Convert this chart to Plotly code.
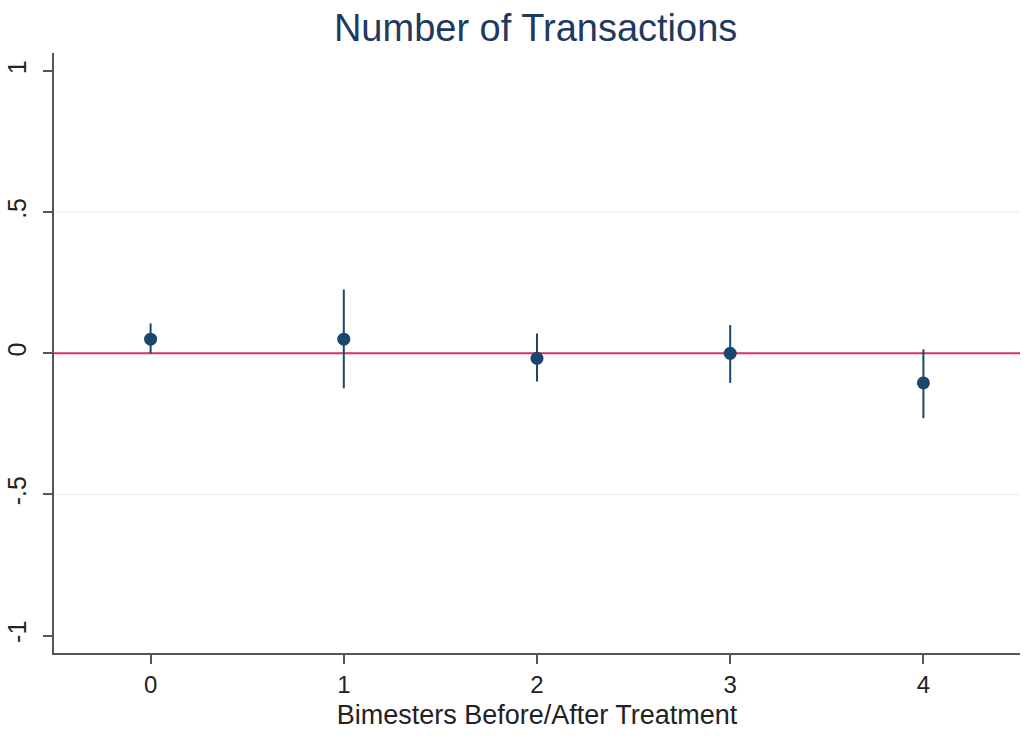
import plotly.graph_objects as go

# Event-study estimates by bimester relative to treatment
bimesters = [0, 1, 2, 3, 4]
estimate = [0.05, 0.05, -0.018, 0.0, -0.105]
ci_low = [0.0, -0.124, -0.10, -0.105, -0.23]
ci_high = [0.106, 0.226, 0.07, 0.10, 0.014]

y_ticks = [-1, -0.5, 0, 0.5, 1]
y_tick_text = ["-1", "-.5", "0", ".5", "1"]
x_ticks = [0, 1, 2, 3, 4]

navy = "#1a476f"
axis_grey = "#555555"

fig = go.Figure()

fig.add_trace(go.Scatter(
    x=bimesters,
    y=estimate,
    mode="markers",
    marker=dict(color=navy, size=13),
    error_y=dict(
        type="data",
        symmetric=False,
        array=[h - e for h, e in zip(ci_high, estimate)],
        arrayminus=[e - l for e, l in zip(estimate, ci_low)],
        color=navy,
        thickness=2,
        width=0,
    ),
    showlegend=False,
))

# light grid at the inner ticks
for gy in [-0.5, 0.5]:
    fig.add_shape(type="line", xref="paper", x0=0, x1=1, yref="y", y0=gy, y1=gy,
                  line=dict(color="#eef3f4", width=1.5), layer="below")

# reference line at zero
fig.add_shape(type="line", xref="paper", x0=0, x1=1, yref="y", y0=0, y1=0,
              line=dict(color="#d8315b", width=2), layer="below")

fig.update_layout(
    width=1034,
    height=740,
    paper_bgcolor="white",
    plot_bgcolor="white",
    margin=dict(l=54, r=14, t=53, b=87),
    font=dict(family="Liberation Sans, Arial, sans-serif", color="#222222"),
    title=dict(
        text="Number of Transactions",
        x=0.518, xanchor="center",
        y=0.963, yanchor="middle",
        font=dict(size=38, color="#1f3a5f"),
    ),
    xaxis=dict(
        range=[-0.5, 4.5],
        tickvals=x_ticks,
        ticktext=[str(v) for v in x_ticks],
        tickfont=dict(size=24, color="#222222"),
        ticks="outside", ticklen=9, tickwidth=1.5, tickcolor=axis_grey,
        showline=True, linecolor=axis_grey, linewidth=2,
        showgrid=False, zeroline=False, automargin=False,
        title=dict(text="Bimesters Before/After Treatment",
                   font=dict(size=27, color="#222222"), standoff=8),
    ),
    yaxis=dict(
        range=[-1.062, 1.064],
        tickvals=y_ticks,
        ticktext=y_tick_text,
        tickangle=-90,
        tickfont=dict(size=25, color="#222222"),
        ticks="outside", ticklen=9, tickwidth=1.5, tickcolor=axis_grey,
        ticklabelstandoff=7,
        showline=True, linecolor=axis_grey, linewidth=2,
        showgrid=False, zeroline=False, automargin=False,
    ),
)

fig.write_html("out.html")
